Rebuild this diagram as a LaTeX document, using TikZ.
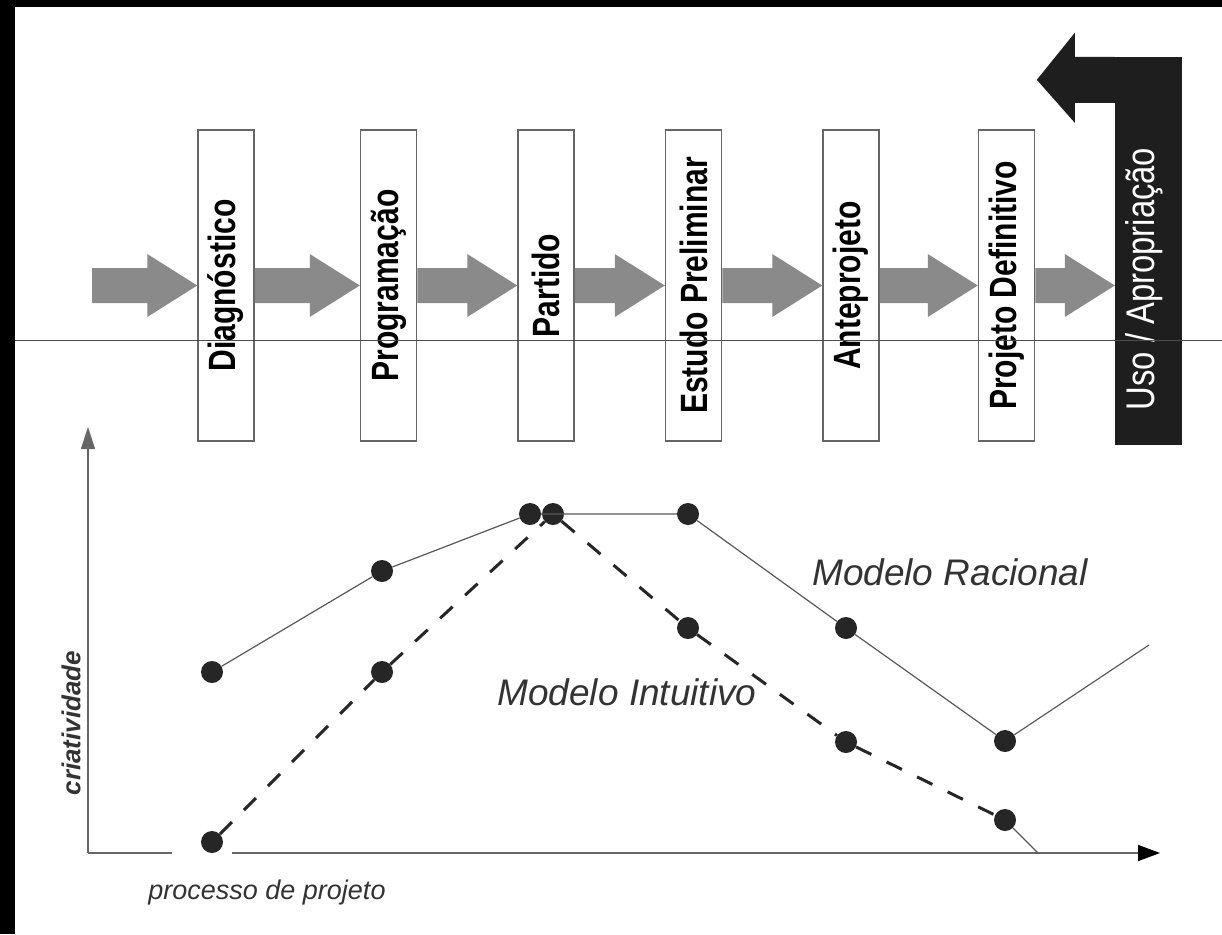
\documentclass[tikz,border=0pt]{standalone}
\usepackage{fontspec}
\setmainfont{Liberation Sans}
\newfontfamily\stagefont[FakeStretch=0.79]{Liberation Sans}
\newfontfamily\usofont[FakeStretch=0.82]{Liberation Sans}
\usetikzlibrary{positioning,arrows.meta,calc}
\definecolor{arrowgray}{RGB}{138,138,138}
\definecolor{usoblack}{RGB}{30,30,30}

\begin{document}
\begin{tikzpicture}[x=1pt, y=-1pt,
    stage/.style={rectangle, draw=gray!80!black, line width=1.5pt, fill=white, minimum width=56pt, minimum height=311pt, inner sep=0pt, font=\stagefont\fontsize{38}{38}\selectfont\bfseries},
    flow/.style={fill=arrowgray, to path={let \p1=(\tikztostart), \p2=(\tikztotarget) in
        (\x1,\y1+17.5pt) -- (\x2-50pt,\y1+17.5pt) -- (\x2-50pt,\y1+31.5pt) -- (\x2,\y1)
        -- (\x2-50pt,\y1-31.5pt) -- (\x2-50pt,\y1-17.5pt) -- (\x1,\y1-17.5pt) -- cycle}},
    dot/.style={circle, fill=black!85, minimum size=22pt, inner sep=0pt},
    rational/.style={gray!70!black, line width=1.2pt},
    intuitive/.style={black!85, line width=3pt, dash pattern=on 17pt off 17pt},
    axis/.style={gray!80!black, line width=1.5pt},
    model/.style={font=\itshape\fontsize{37}{37}\selectfont, text=black!80}]

    \useasboundingbox (0,0) rectangle (1222,934);
    \fill[white] (0,0) rectangle (1222,934);
    \fill[black] (0,0) rectangle (15,934);
    \fill[black] (0,0) rectangle (1222,7);

    % etapas do processo
    \node [stage] (diag) at (226,285.5) {\rotatebox{90}{Diagnóstico}};
    \node [stage, right=105pt of diag] (prog) {\rotatebox{90}{Programação}};
    \node [stage, right=100pt of prog] (part) {\rotatebox{90}{Partido}};
    \node [stage, right=90pt of part] (est) {\rotatebox{90}{Estudo Preliminar}};
    \node [stage, right=100pt of est] (ante) {\rotatebox{90}{Anteprojeto}};
    \node [stage, right=98pt of ante] (proj) {\rotatebox{90}{Projeto Definitivo}};

    \node [rectangle, fill=usoblack, minimum width=67pt, minimum height=388pt, inner sep=0pt] (uso) at (1148.5,251) {};
    \fill[usoblack] (uso.north west) -- ++(-40,0) -- ++(0,-24) -- ++(-38,47) -- ++(38,43) -- ++(0,-20) -- ++(40,0) -- cycle;
    \node [font=\usofont\fontsize{40}{40}\selectfont, text=white] (usolabel) at (1144,279) {\rotatebox{90}{Uso / Apropriação}};

    \coordinate (start) at (92,285.5);
    \path[flow] (start) to (diag.west);
    \path[flow] (diag.east) to (prog.west);
    \path[flow] (prog.east) to (part.west);
    \path[flow] (part.east) to (est.west);
    \path[flow] (est.east) to (ante.west);
    \path[flow] (ante.east) to (proj.west);
    \path[flow] (proj.east) to (proj.east -| uso.west);

    \draw[gray!60!black, line width=1pt] (15,340) -- (1222,340);

    % grafico
    \coordinate (origin) at (88,853);
    \coordinate (ytop) at (88,427);
    \coordinate (xend) at (1160,853);
    \draw[axis, -{Triangle[length=22pt, width=14pt]}] (origin) -- (ytop);
    \draw[axis, -{Triangle[length=22pt, width=16pt, color=black]}] (origin) -- (xend);

    \node [dot] (r1) at (212,672) {};
    \node [dot] (r2) at (382,571) {};
    \node [dot] (r3) at (530,514) {};
    \node [dot] (r4) at (688,514) {};
    \node [dot] (r5) at (846,628) {};
    \node [dot] (r6) at (1005,741) {};
    \coordinate (rend) at (1149,645);

    \fill[white] (172,848) rectangle (232,858);
    \node [dot] (i1) at (212,842) {};
    \node [dot] (i2) at (382,672) {};
    \node [dot] (i3) at (553,514) {};
    \node [dot] (i4) at (688,628) {};
    \node [dot] (i5) at (846,742) {};
    \node [dot] (i6) at (1005,820) {};
    \coordinate (iend) at (1038,853);

    \draw[rational] (r1) -- (r2) -- (r3) -- (r4) -- (r5) -- (r6) -- (rend);
    \draw[intuitive] (i1) -- (i2) -- (i3) -- (i4) -- (i5) -- (i6);
    \draw[rational] (i6) -- (iend);

    \node [model] (racional) at (950,572) {Modelo Racional};
    \node [model] (intuitivo) at (627,692) {Modelo Intuitivo};
    \node [font=\itshape\fontsize{27}{27}\selectfont, text=black!80] (xlabel) at (267,893) {processo de projeto};
    \node [font=\bfseries\itshape\fontsize{26}{26}\selectfont, text=black!80, rotate=90] (ylabel) at (71,723) {criatividade};
\end{tikzpicture}
\end{document}
